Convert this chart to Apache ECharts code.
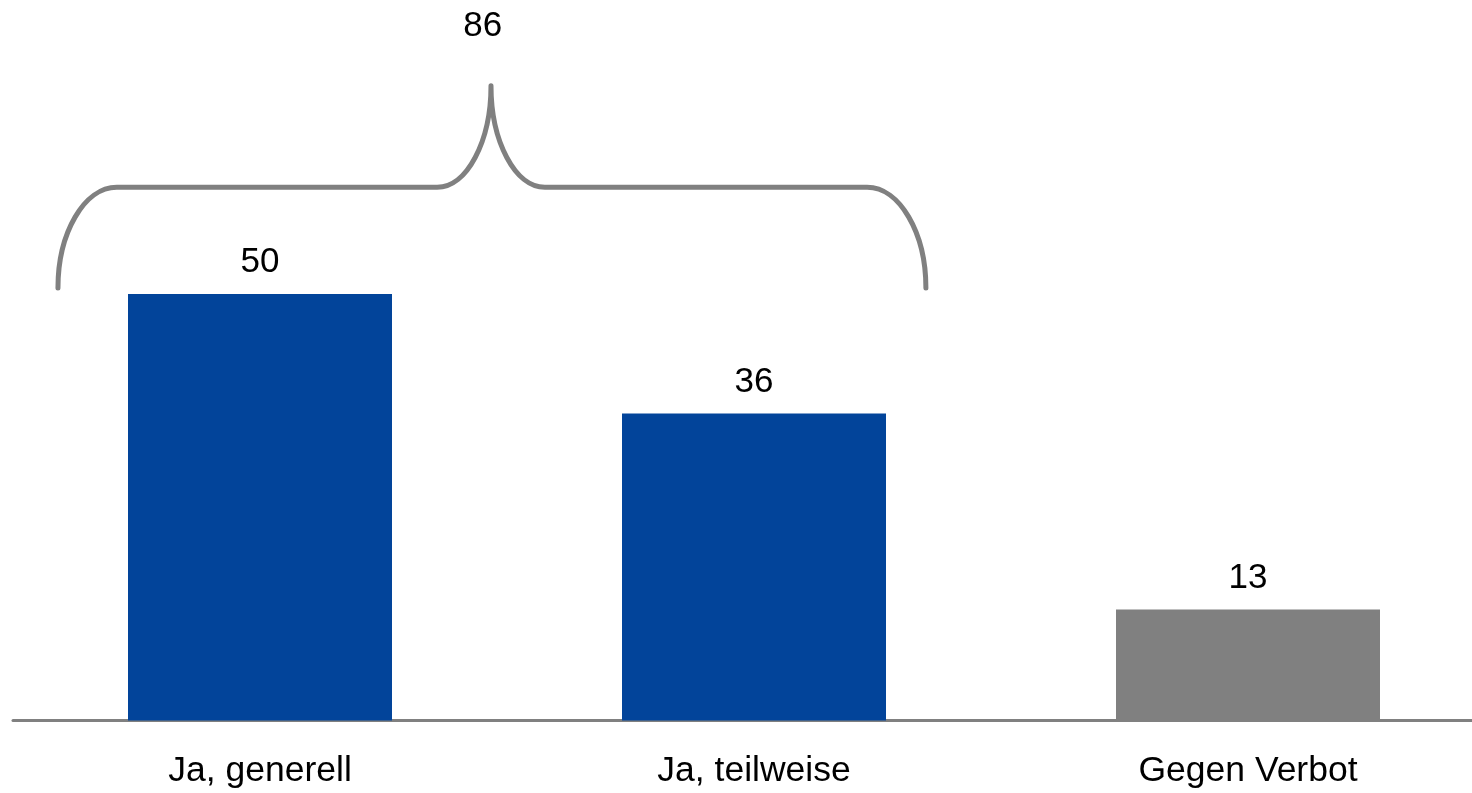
<!DOCTYPE html>
<html>
<head>
<meta charset="utf-8">
<script src="https://cdn.jsdelivr.net/npm/echarts@6/dist/echarts.min.js"></script>
<style>
  html, body { margin: 0; padding: 0; background: #fff; overflow: hidden; width: 1472px; height: 793px; }
  #chart { width: 1495px; height: 793px; }
</style>
</head>
<body>
<div id="chart"></div>
<script>
// ---- data ----
const categories = ['Ja, generell', 'Ja, teilweise', 'Gegen Verbot'];
const values = [50, 36, 13];
const barColors = ['#02449A', '#02449A', '#808080'];
const totalLabel = '86';   // sum of the two "Ja" answers, shown above the brace

// brace annotation geometry (category-band units for x, value units for y)
const brace = {
  from: -0.409, to: 1.348, tip: 0.4676,
  endValue: 50.7, armValue: 62.5, tipValue: 74.4,
  endCurve: 0.119, tipCurve: 0.109,
  labelX: 0.451, labelValue: 81.4
};

const font = '"Liberation Sans", Arial, Helvetica, sans-serif';
const chart = echarts.init(document.getElementById('chart'), null, { renderer: 'canvas' });

function renderBrace(params, api) {
  const p0 = api.coord([0, 0]);
  const p1 = api.coord([1, 0]);
  const band = p1[0] - p0[0];
  const X = f => p0[0] + f * band;
  const Y = v => api.coord([0, v])[1];
  const k = 0.55;
  const xl = X(brace.from), xr = X(brace.to), xt = X(brace.tip);
  const ye = Y(brace.endValue), ya = Y(brace.armValue), yt = Y(brace.tipValue);
  const ec = brace.endCurve * band, tc = brace.tipCurve * band;
  const hE = ye - ya, hT = ya - yt;
  const d = [
    'M', xl, ye,
    'C', xl, ye - k * hE, xl + ec - k * ec, ya, xl + ec, ya,
    'L', xt - tc, ya,
    'C', xt - tc + k * tc, ya, xt, yt + k * hT, xt, yt,
    'C', xt, yt + k * hT, xt + tc - k * tc, ya, xt + tc, ya,
    'L', xr - ec, ya,
    'C', xr - ec + k * ec, ya, xr, ye - k * hE, xr, ye
  ].join(' ');
  return {
    type: 'group',
    children: [
      {
        type: 'path',
        shape: { pathData: d },
        style: { fill: 'none', stroke: '#808080', lineWidth: 5, lineCap: 'round', lineJoin: 'round' }
      },
      {
        type: 'text',
        style: {
          text: totalLabel,
          x: X(brace.labelX), y: Y(brace.labelValue),
          align: 'center', verticalAlign: 'middle',
          font: '35px ' + font, fill: '#000'
        }
      }
    ]
  };
}

chart.setOption({
  animation: false,
  backgroundColor: '#ffffff',
  grid: { left: 13, right: 0, top: 38, bottom: 72.5, containLabel: false },
  xAxis: {
    type: 'category',
    data: categories,
    axisTick: { show: false },
    axisLine: { lineStyle: { color: '#808080', width: 3 } },
    axisLabel: { color: '#000', fontSize: 35.5, fontFamily: font, margin: 33 }
  },
  yAxis: {
    type: 'value', min: 0, max: 80,
    show: false, splitLine: { show: false }
  },
  series: [
    {
      type: 'bar',
      barWidth: 264,
      data: values.map((v, i) => ({ value: v, itemStyle: { color: barColors[i] } })),
      label: {
        show: true, position: 'top', distance: 14,
        color: '#000', fontSize: 35, fontFamily: font
      }
    },
    {
      type: 'custom',
      clip: false,
      z: 5,
      renderItem: renderBrace,
      data: [[0, 0]],
      silent: true
    }
  ]
});
</script>
</body>
</html>
